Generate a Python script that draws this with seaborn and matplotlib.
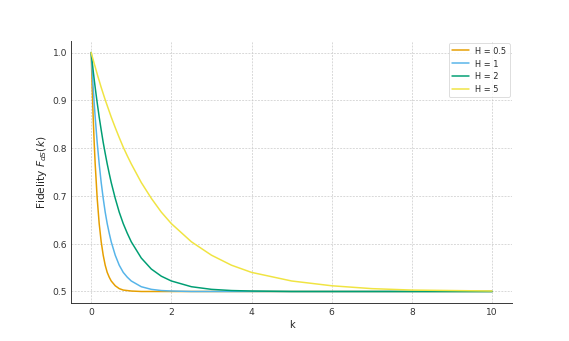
"""Fidelity F_dS(k) against k for several values of H."""

import matplotlib
matplotlib.use("Agg")
import matplotlib.pyplot as plt
import pandas as pd
import seaborn as sns

# values
k = [0, 0.025, 0.05, 0.075, 0.1, 0.15, 0.2, 0.25, 0.3, 0.35, 0.4, 0.45,
     0.5, 0.6, 0.7, 0.8, 0.9, 1.0, 1.25, 1.5, 1.75, 2, 2.5, 3, 3.5, 4,
     5, 6, 7, 8, 9, 10]
f_h05 = [1.0, 0.927, 0.865, 0.812, 0.767, 0.695, 0.642, 0.604, 0.576, 0.555,
         0.540, 0.530, 0.522, 0.512, 0.506, 0.503, 0.502, 0.501, 0.500, 0.500,
         0.500, 0.500, 0.500, 0.500, 0.500, 0.500, 0.500, 0.500, 0.500, 0.500,
         0.500, 0.500]
f_h1 = [1.0, 0.962, 0.927, 0.895, 0.865, 0.812, 0.767, 0.728, 0.695, 0.666,
        0.642, 0.622, 0.604, 0.576, 0.555, 0.540, 0.530, 0.522, 0.510, 0.5045,
        0.502, 0.501, 0.500, 0.500, 0.500, 0.500, 0.500, 0.500, 0.500, 0.500,
        0.500, 0.500]
f_h2 = [1.0, 0.981, 0.962, 0.944, 0.927, 0.895, 0.865, 0.838, 0.812, 0.789,
        0.767, 0.747, 0.728, 0.695, 0.666, 0.642, 0.622, 0.604, 0.570, 0.547,
        0.532, 0.522, 0.510, 0.5045, 0.502, 0.501, 0.500, 0.500, 0.500, 0.500,
        0.500, 0.500]
f_h5 = [1.0, 0.992, 0.985, 0.977, 0.970, 0.955, 0.941, 0.927, 0.914, 0.901,
        0.889, 0.877, 0.865, 0.843, 0.822, 0.802, 0.784, 0.767, 0.728, 0.695,
        0.666, 0.642, 0.604, 0.576, 0.555, 0.540, 0.522, 0.512, 0.506, 0.503,
        0.502, 0.501]

labels = ["H = 0.5", "H = 1", "H = 2", "H = 5"]
colors = ["#E69F00", "#56B4E9", "#009E73", "#F0E442"]

frames = []
for label, values in zip(labels, [f_h05, f_h1, f_h2, f_h5]):
    frames.append(pd.DataFrame({"k": k, "F": values, "H": label}))
data = pd.concat(frames, ignore_index=True)

sns.set_style("white")
plt.rcParams["font.family"] = ["DejaVu Sans"]

fig, ax = plt.subplots(figsize=(10, 6), dpi=56.9)
sns.lineplot(data=data, x="k", y="F", hue="H", hue_order=labels,
             palette=colors, linewidth=1.9, ax=ax)

ax.set_xlabel("k", fontsize=12.5, color="#262626")
ax.set_ylabel(r"Fidelity $F_{dS}(k)$", fontsize=13.5, color="#262626")
ax.set_xticks([0, 2, 4, 6, 8, 10])
ax.set_yticks([0.5, 0.6, 0.7, 0.8, 0.9, 1.0])
ax.set_xlim(-0.5, 10.5)
ax.set_ylim(0.475, 1.025)
ax.tick_params(length=0, pad=5, labelsize=11.5, labelcolor="#333333")
ax.grid(True, linestyle=(0, (3, 2)), color="#c4c4c4", linewidth=0.8)
for side in ["top", "right"]:
    ax.spines[side].set_visible(False)
for side in ["left", "bottom"]:
    ax.spines[side].set_color("#333333")
    ax.spines[side].set_linewidth(1.2)

leg = ax.legend(loc="upper right", fontsize=10.5, frameon=True,
                title=None, labelspacing=0.45, borderaxespad=0.3)
leg.get_frame().set_edgecolor("#cccccc")

fig.savefig("out.png", dpi=56.9)
